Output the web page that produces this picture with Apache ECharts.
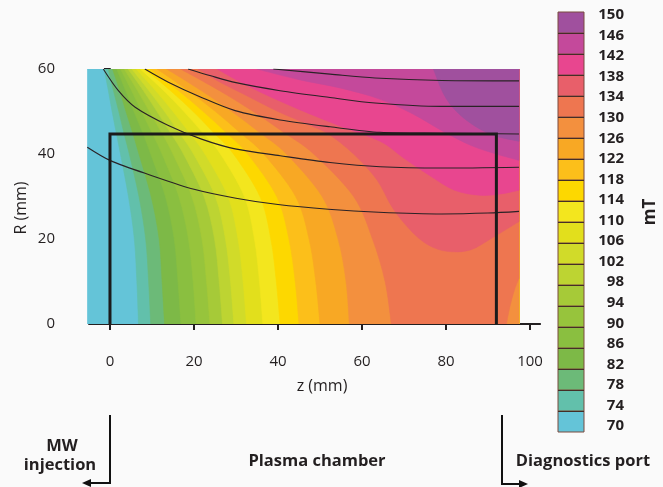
<!DOCTYPE html>
<html>
<head>
<meta charset="utf-8">
<script src="https://cdn.jsdelivr.net/npm/echarts@6/dist/echarts.min.js"></script>
<style>
html,body{margin:0;padding:0;background:#fafafa;}
#chart{width:663px;height:487px;}
</style>
</head>
<body>
<div id="chart"></div>
<script>
// ---------------- data ----------------
// lower bound of each colour band (mT)
const bandLevels = [70,74,78,82,86,90,94,98,102,106,110,114,118,122,126,130,134,138,142,146];
const bandColors = ['#64c4d8','#62c0ab','#6cba78','#7db947','#8abf40','#97c43c','#a6ca38','#bdd432','#d1db29','#e2df1c',
                    '#f3e61e','#fdd800','#fcbf1a','#f8a824','#f3903e','#ee7650','#e85f6a','#e8468f','#c4499b','#a0509e'];
const colorbarTicks = [150,146,142,138,134,130,126,122,118,114,110,106,102,98,94,90,86,82,78,74,70];
const zTicks = [0,20,40,60,80,100];
const rTicks = [0,20,40,60];

// contour positions z (mm) of each level boundary, at these radii R (mm)
const contourR = [60,55,50,45,40,30,20,10,0];
const c74  = [-1.4,-0.4,0.5,1.5,2.5,4.4,5.8,6.4,6.8];
const c78  = [-0.4,0.8,2.1,3.3,4.6,6.9,8.5,9.2,9.7];
const c82  = [0.6,2.3,3.8,5.4,6.9,9.8,11.7,12.4,13.0];
const c86  = [1.6,3.7,5.7,7.8,9.7,13.2,15.3,16.2,16.9];
const c90  = [2.5,5.1,7.5,10.0,12.4,16.4,18.7,19.8,20.5];
const c94  = [3.4,6.5,9.4,12.3,15.0,19.5,21.9,23.0,23.8];
const c98  = [4.3,7.9,11.2,14.4,17.5,22.4,24.9,26.0,26.8];
const c102 = [5.2,9.2,13.0,16.5,19.9,25.1,27.5,28.7,29.5];
const c106 = [6.2,10.8,15.0,18.9,22.6,28.1,30.5,31.7,32.5];
const c110 = [7.2,12.7,17.6,22.1,26.3,32.0,34.4,35.6,36.4];
const c114 = [8.3,14.3,19.8,24.7,29.4,35.7,38.3,39.6,40.5];
const c118 = [9.6,16.2,22.2,27.7,32.8,39.7,42.6,44.1,45.0];
const c122 = [11.2,18.5,25.1,31.0,36.6,44.2,47.4,49.0,50.0];
const c126 = [13.5,21.6,29.0,35.7,42.0,50.5,54.3,56.2,57.0];
const c130 = [16.8,25.9,34.1,41.5,48.5,58.0,62.5,65.5,67.0];
// lower-right pocket where the field drops back below 130 mT
const c130Corner = [[94.4,0],[95.2,4],[96.3,8],[97.4,10.8]];
// upper-right contours as [z, R] points
const c134 = [[21,60],[26,57],[32,54],[40,50],[47,47],[52,44.7],[58,40],[63.5,34],[67.5,27],[72.6,21],[77,18],[81.4,17],[86,17.5],[90.9,20.2],[97.4,24.1]];
const c138 = [[25.5,60],[30,57.5],[37,54],[45,50.5],[55,46.5],[64.3,43],[70,39],[76,35],[82,31.5],[88,30.3],[93,30.6],[97.4,31.5]];
const c142 = [[35,60],[45,57.5],[55,55.5],[64,53],[72,49.5],[79,45.5],[86,42],[92,40],[97.4,38.5]];
const c146 = [[77,60],[79.5,54],[82.5,50],[87,46.5],[92,44.2],[97.4,43]];

// magnetic field lines [z, R]
const fieldA = [[-5.4,41.6],[0,38.5],[10,34.9],[20,31.7],[30,29.6],[40,28.1],[52,27],[64,26.3],[79,25.9],[90,26.1],[97.4,26.5]];
const fieldB = [[-1.6,60],[2,54.9],[6,51],[13.9,46.7],[21.8,43.5],[29.8,41.2],[40.5,39.6],[52.4,38],[64.3,37],[79,36.7],[97.4,36.9]];
const fieldC = [[8.3,60],[13.9,56.9],[21.8,53.3],[29.8,50.2],[40.5,48],[52.4,46.4],[64.3,45.1],[79,44.9],[97.4,44.7]];
const fieldD = [[18.6,60],[24,58.4],[30,56.8],[40.5,54.9],[52.4,53.3],[63.1,52],[79,51.2],[97.4,51.2]];
const fieldE = [[38.9,60],[52.4,58.8],[63.1,57.9],[79,57.3],[97.4,57.2]];

// plasma chamber outline [z, R]
const chamber = [[0,0],[0,44.7],[92,44.7],[92,0]];

// map extent
const Z_MIN = -5.4, Z_MAX = 97.4, R_MAX = 60;

// ---------------- build band regions (value >= level) ----------------
function rowPts(arr){ return contourR.map((r,i)=>[arr[i], r]); }
const leftC = [c74,c78,c82,c86,c90,c94,c98,c102,c106,c110,c114,c118,c122,c126];
const bandShapes = [];
bandShapes.push([{pts:[[Z_MIN,R_MAX],[Z_MIN,0],[Z_MAX,0],[Z_MAX,R_MAX]], smooth:false}]);
leftC.forEach(c=>{
  bandShapes.push([{pts:rowPts(c), smooth:true},{pts:[[Z_MAX,0],[Z_MAX,R_MAX]], smooth:false}]);
});
bandShapes.push([{pts:rowPts(c130), smooth:true},{pts:c130Corner, smooth:true},{pts:[[Z_MAX,R_MAX]], smooth:false}]);
[c134,c138,c142,c146].forEach(c=>{
  bandShapes.push([{pts:c, smooth:true},{pts:[[Z_MAX,R_MAX]], smooth:false}]);
});

function smoothSeg(px, first){
  let d = (first ? 'M' : 'L') + px[0][0] + ' ' + px[0][1];
  const n = px.length;
  for (let i = 0; i < n-1; i++){
    const p0 = px[Math.max(i-1,0)], p1 = px[i], p2 = px[i+1], p3 = px[Math.min(i+2,n-1)];
    const t = 1/6;
    const a = [p1[0]+(p2[0]-p0[0])*t, p1[1]+(p2[1]-p0[1])*t];
    const b = [p2[0]-(p3[0]-p1[0])*t, p2[1]-(p3[1]-p1[1])*t];
    d += ' C' + a[0]+' '+a[1]+' '+b[0]+' '+b[1]+' '+p2[0]+' '+p2[1];
  }
  return d;
}

const FONT = '"Open Sans", "Noto Sans", sans-serif';
const INK = '#231f20';

const chart = echarts.init(document.getElementById('chart'), null, {renderer:'canvas'});

function fieldSeries(data){
  return {type:'line', xAxisIndex:0, yAxisIndex:0, data:data, smooth:0.3, symbol:'none', silent:true, clip:true,
          lineStyle:{color:'#2a2226', width:1.1}, z:5};
}

const option = {
  backgroundColor:'#fafafa',
  animation:false,
  grid:[
    {left:87.3, width:431.76, top:69, height:255, outerBoundsMode:'none'},           // map
    {left:89, width:451.1, top:69, height:255, outerBoundsMode:'none'},              // axes
    {left:558, width:26, top:12, height:420, outerBoundsMode:'none'},                // colorbar boxes
    {left:558, width:26, top:15, height:411, outerBoundsMode:'none'}                 // colorbar labels
  ],
  xAxis:[
    {gridIndex:0, type:'value', min:Z_MIN, max:Z_MAX, show:false},
    {gridIndex:1, type:'value', min:-5, max:102.4, position:'bottom', offset:13,
      axisLine:{show:true, lineStyle:{color:INK, width:2}},
      axisTick:{show:true, length:6, customValues:zTicks, lineStyle:{color:INK, width:2}},
      axisLabel:{customValues:zTicks, margin:17, fontSize:15, color:INK, fontFamily:FONT},
      splitLine:{show:false}},
    {gridIndex:2, type:'value', min:0, max:1, show:false},
    {gridIndex:3, type:'value', min:0, max:1, show:false}
  ],
  yAxis:[
    {gridIndex:0, type:'value', min:0, max:R_MAX, show:false},
    {gridIndex:1, type:'value', min:0, max:60, interval:20, position:'left', offset:21,
      axisLine:{show:true, lineStyle:{color:INK, width:2}},
      axisTick:{show:true, length:6, lineStyle:{color:INK, width:2}},
      axisLabel:{margin:13, fontSize:15, color:INK, fontFamily:FONT},
      splitLine:{show:false}},
    {gridIndex:2, type:'value', min:70, max:150, show:false},
    {gridIndex:3, type:'value', min:70, max:150, position:'right',
      axisLine:{show:false}, axisTick:{show:false}, splitLine:{show:false},
      axisLabel:{customValues:colorbarTicks, align:'right', margin:40, fontSize:15, fontWeight:'bold', color:INK, fontFamily:FONT}}
  ],
  series:[
    {type:'custom', xAxisIndex:0, yAxisIndex:0, clip:true, silent:true, z:1,
      data: bandLevels.map((v,i)=>[i, v]),
      renderItem:function(params, api){
        const k = api.value(0);
        let d = '';
        bandShapes[k].forEach((s, si)=>{
          const px = s.pts.map(p=>api.coord(p));
          if (s.smooth) d += ' ' + smoothSeg(px, si===0);
          else d += ' ' + px.map((p,j)=>((si===0 && j===0)?'M':'L')+p[0]+' '+p[1]).join(' ');
        });
        d += ' Z';
        return {type:'path', shape:{pathData:d}, style:{fill:bandColors[k], stroke:bandColors[k], lineWidth:0.6}};
      }
    },
    fieldSeries(fieldA), fieldSeries(fieldB), fieldSeries(fieldC), fieldSeries(fieldD), fieldSeries(fieldE),
    {type:'line', xAxisIndex:0, yAxisIndex:0, data:chamber, symbol:'none', silent:true, clip:false, z:6,
      lineStyle:{color:'#1b1b1b', width:3, join:'miter'}},
    {type:'custom', xAxisIndex:2, yAxisIndex:2, silent:true, z:2,
      data: bandLevels.map((v,i)=>[i, v]),
      renderItem:function(params, api){
        const k = api.value(0), v = api.value(1);
        const a = api.coord([0, v+4]), b = api.coord([1, v]);
        const children = [{type:'rect', shape:{x:a[0], y:a[1], width:b[0]-a[0], height:b[1]-a[1]},
                           style:{fill:bandColors[k], stroke:'#7a4a3e', lineWidth:1}}];
        if (v < 146) children.push({type:'line', shape:{x1:a[0], y1:a[1], x2:b[0], y2:a[1]}, style:{stroke:'#111', lineWidth:2}});
        return {type:'group', children:children};
      }
    }
  ],
  graphic:[
    {type:'text', x:21, y:208, rotation:Math.PI/2, style:{text:'R (mm)', font:'16px '+FONT, fill:INK, align:'center', verticalAlign:'middle'}},
    {type:'text', x:322, y:386, style:{text:'z (mm)', font:'16px '+FONT, fill:INK, align:'center', verticalAlign:'middle'}},
    {type:'text', x:650, y:212, rotation:Math.PI/2, style:{text:'mT', font:'bold 17px '+FONT, fill:INK, align:'center', verticalAlign:'middle'}},
    {type:'text', x:62, y:446, style:{text:'MW', font:'bold 16.5px '+FONT, fill:INK, align:'center', verticalAlign:'middle'}},
    {type:'text', x:60, y:465, style:{text:'injection', font:'bold 16.5px '+FONT, fill:INK, align:'center', verticalAlign:'middle'}},
    {type:'text', x:317, y:461, style:{text:'Plasma chamber', font:'bold 16.5px '+FONT, fill:INK, align:'center', verticalAlign:'middle'}},
    {type:'text', x:583, y:461, style:{text:'Diagnostics port', font:'bold 16.5px '+FONT, fill:INK, align:'center', verticalAlign:'middle'}},
    {type:'polyline', shape:{points:[[110,415],[110,483],[90,483]]}, style:{stroke:'#111', lineWidth:2, fill:null}},
    {type:'polygon', shape:{points:[[82,483],[91,479],[91,487]]}, style:{fill:'#111'}},
    {type:'polyline', shape:{points:[[502,415],[502,484],[520,484]]}, style:{stroke:'#111', lineWidth:2, fill:null}},
    {type:'polygon', shape:{points:[[528,484],[519,480],[519,488]]}, style:{fill:'#111'}}
  ]
};
chart.setOption(option);
</script>
</body>
</html>
